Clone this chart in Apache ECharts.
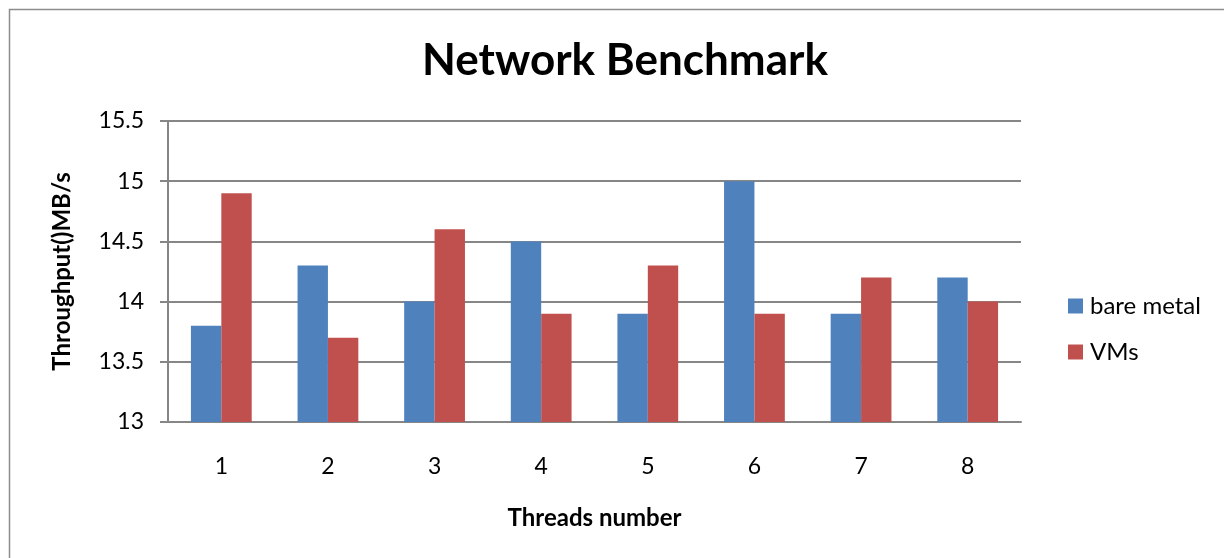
<!DOCTYPE html>
<html>
<head>
<meta charset="utf-8">
<style>
  html, body { margin: 0; padding: 0; background: #fff; }
  #chart { width: 1224px; height: 558px; }
</style>
<script src="https://cdn.jsdelivr.net/npm/echarts@6/dist/echarts.min.js"></script>
</head>
<body>
<div id="chart"></div>
<script>
// Thread counts on the x axis
const threads = ['1', '2', '3', '4', '5', '6', '7', '8'];
// Throughput in MB/s per thread count
const bareMetal = [13.8, 14.3, 14.0, 14.5, 13.9, 15.0, 13.9, 14.2];
const vms = [14.9, 13.7, 14.6, 13.9, 14.3, 13.9, 14.2, 14.0];

const FONT = 'Lato, "Open Sans", sans-serif';
const GRID_COLOR = '#868686';

const chart = echarts.init(document.getElementById('chart'), null, { renderer: 'canvas' });

chart.setOption({
  backgroundColor: '#ffffff',
  animation: false,
  graphic: [{
    type: 'rect',
    shape: { x: 9.5, y: 9.5, width: 1230, height: 560 },
    style: { fill: 'none', stroke: '#8c8c8c', lineWidth: 1.5 },
    silent: true
  }],
  title: {
    text: 'Network Benchmark',
    left: 620,
    textAlign: 'center',
    top: 34,
    textStyle: { fontFamily: FONT, fontSize: 44, fontWeight: 'bold', color: '#000' }
  },
  legend: {
    orient: 'vertical',
    left: 1063,
    top: 289,
    itemGap: 22,
    itemWidth: 15,
    itemHeight: 15,
    icon: 'rect',
    textStyle: { fontFamily: FONT, fontSize: 24, color: '#000', padding: [0, 0, 0, 2] },
    data: ['bare metal', 'VMs']
  },
  grid: { left: 168, right: 203, top: 121, bottom: 136, containLabel: false },
  xAxis: {
    type: 'category',
    data: threads,
    name: 'Threads number',
    nameLocation: 'middle',
    nameGap: 84,
    nameTextStyle: { fontFamily: FONT, fontSize: 24, fontWeight: 'bold', color: '#000' },
    axisLine: { show: true, lineStyle: { color: GRID_COLOR, width: 2 } },
    axisTick: { show: false },
    axisLabel: { fontFamily: FONT, fontSize: 23, color: '#000', margin: 33 }
  },
  yAxis: {
    type: 'value',
    min: 13,
    max: 15.5,
    interval: 0.5,
    name: 'Throughput()MB/s',
    nameLocation: 'middle',
    nameGap: 94,
    nameRotate: 90,
    nameTextStyle: { fontFamily: FONT, fontSize: 24, fontWeight: 'bold', color: '#000' },
    axisLine: { show: true, lineStyle: { color: GRID_COLOR, width: 2 } },
    axisTick: { show: true, length: 8, inside: false, lineStyle: { color: GRID_COLOR, width: 2 } },
    axisLabel: { fontFamily: FONT, fontSize: 23, color: '#000', margin: 24 },
    splitLine: { show: true, lineStyle: { color: GRID_COLOR, width: 2 } }
  },
  series: [
    {
      name: 'bare metal',
      type: 'bar',
      data: bareMetal,
      barGap: '0%',
      barCategoryGap: '43%',
      itemStyle: { color: '#4F81BD' }
    },
    {
      name: 'VMs',
      type: 'bar',
      data: vms,
      barGap: '0%',
      barCategoryGap: '43%',
      itemStyle: { color: '#C0504D' }
    }
  ]
});
</script>
</body>
</html>
